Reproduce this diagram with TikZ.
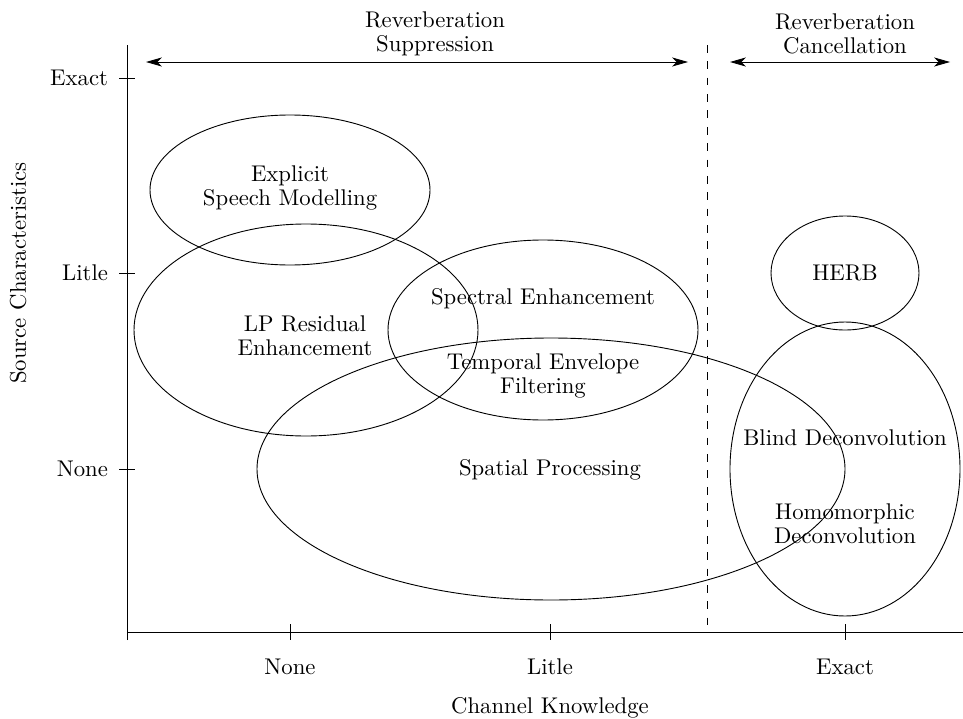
\documentclass[tikz,border=0pt]{standalone}
\usepackage{tikz}
\usetikzlibrary{arrows}
\usetikzlibrary{arrows.meta}
\usetikzlibrary{shapes.geometric}

\tikzset{
    region/.style={draw, ellipse, inner sep=0pt},
    lbl/.style={align=center},
    dim/.style={{Stealth[length=7pt,width=4pt,inset=2pt]}-{Stealth[length=7pt,width=4pt,inset=2pt]}, thin},
}

\begin{document}
\begin{tikzpicture}[x=0.44pt, y=-0.44pt]
        \useasboundingbox (0,0) rectangle (963,719);
        % axes
        \coordinate (o) at (127,632);
        \coordinate (ytop) at (127,45);
        \coordinate (xend) at (963,632);
        \draw (127,640) -- (ytop);
        \draw (o) -- (xend);
        \foreach \y/\t in {78/Exact,273/Litle,469/None} {
            \draw (119,\y) -- (135,\y);
            \node[lbl, anchor=east] at (116,\y) {\t};
        }
        \foreach \x/\t in {290/None,550/Litle,845/Exact} {
            \draw (\x,624) -- (\x,640);
            \node[lbl] at (\x,667) {\t};
        }
        \node[lbl, rotate=90] (ylab) at (18,273) {Source Characteristics};
        \node[lbl] (xlab) at (550,708) {Channel Knowledge};
        % split
        \draw[dash pattern=on 3.4pt off 3.8pt] (707,45) -- (707,632);
        \coordinate (s1) at (146,62);
        \coordinate (s2) at (688,62);
        \coordinate (c1) at (730,62);
        \coordinate (c2) at (950,62);
        \draw[dim] (s1) -- (s2);
        \draw[dim] (c1) -- (c2);
        \node[lbl] (supp) at (435,34) {Reverberation\\[-1.5pt]Suppression};
        \node[lbl] (canc) at (845,34) {Reverberation\\[-1.5pt]Cancellation};
        % regions
        \node[region, minimum width=280*0.44pt, minimum height=150*0.44pt] (esm) at (290,190) {};
        \node[region, minimum width=344*0.44pt, minimum height=212*0.44pt] (lpr) at (306,330) {};
        \node[region, minimum width=310*0.44pt, minimum height=180*0.44pt] (spe) at (543,330) {};
        \node[region, minimum width=588*0.44pt, minimum height=262*0.44pt] (spa) at (551,469) {};
        \node[region, minimum width=148*0.44pt, minimum height=114*0.44pt] (herb) at (845,273) {};
        \node[region, minimum width=230*0.44pt, minimum height=294*0.44pt] (bld) at (845,469) {};
        % labels
        \node[lbl] at (290,188) {Explicit\\[-1.5pt]Speech Modelling};
        \node[lbl] at (305,336) {LP Residual\\[-1.5pt]Enhancement};
        \node[lbl] at (543,299) {Spectral Enhancement};
        \node[lbl] at (543,376) {Temporal Envelope\\[-1.5pt]Filtering};
        \node[lbl] at (550,470) {Spatial Processing};
        \node[lbl] at (845,273) {HERB};
        \node[lbl] at (845,438) {Blind Deconvolution};
        \node[lbl] at (845,524) {Homomorphic\\[-1.5pt]Deconvolution};
    \end{tikzpicture}
\end{document}
